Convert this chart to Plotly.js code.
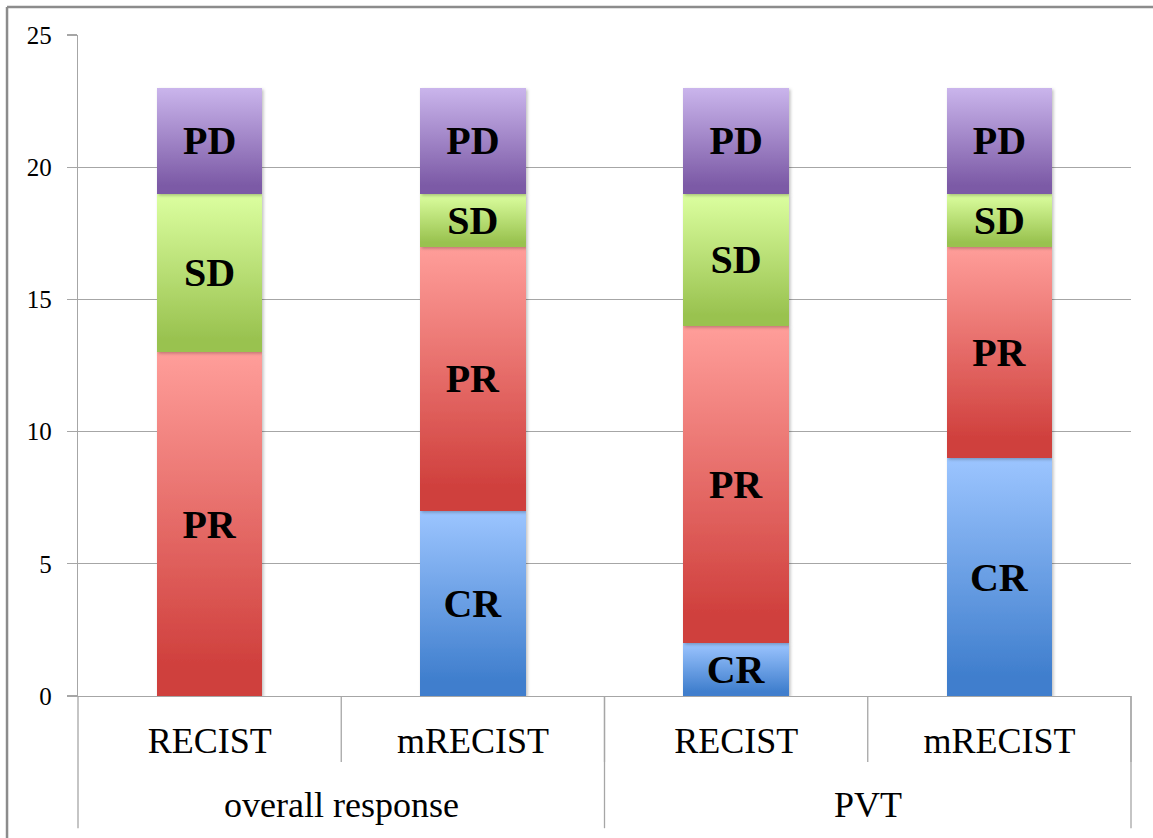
<!DOCTYPE html>
<html>
<head>
<meta charset="utf-8">
<script src="https://cdn.plot.ly/plotly-3.0.1.min.js"></script>
<style>
  html, body { margin: 0; padding: 0; background: #ffffff; overflow: hidden; }
  #chart { width: 1153px; height: 838px; }
</style>
</head>
<body>
<div id="chart"></div>
<script>
// Evaluation method for each bar, and the setting it belongs to
const groups = ['overall response', 'overall response', 'PVT', 'PVT'];
const methods = ['RECIST', 'mRECIST', 'RECIST', 'mRECIST'];

// Number of patients in each response class (stacked bottom to top)
const seriesNames = ['CR', 'PR', 'SD', 'PD'];
const crValues = [0, 7, 2, 9];
const prValues = [13, 10, 12, 8];
const sdValues = [6, 2, 5, 2];
const pdValues = [4, 4, 4, 4];

const yTicks = [0, 5, 10, 15, 20, 25];

// Vertical gradient stops (top colour, bottom colour) for each response class
const gradientStops = {
  CR: ['#9cc5ff', '#3f7ecd'],
  PR: ['#ff9e9a', '#cf3f3c'],
  SD: ['#dcffa0', '#99c24f'],
  PD: ['#cab5ec', '#7c5aa6']
};
const baseColors = { CR: '#6fa1e6', PR: '#e6706c', SD: '#bde178', PD: '#a388cb' };

const valuesBySeries = [crValues, prValues, sdValues, pdValues];

// Unique key per bar so the repeated method names stay separate categories
const barKeys = groups.map((g, i) => g + ' / ' + methods[i]);

const serif = 'Liberation Serif, Times New Roman, serif';

const traces = seriesNames.map((name, i) => ({
  type: 'bar',
  name: name,
  x: barKeys,
  y: valuesBySeries[i],
  text: valuesBySeries[i].map(v => (v > 0 ? name : '')),
  texttemplate: '%{text}',
  textposition: 'inside',
  insidetextanchor: 'middle',
  textangle: 0,
  constraintext: 'none',
  insidetextfont: { family: serif, size: 40, color: '#000000', weight: 'bold' },
  marker: { color: baseColors[name], line: { width: 0 } },
  width: 0.4,
  hoverinfo: 'skip'
}));

// Group captions centred under each pair of bars
const groupNames = [...new Set(groups)];
const groupAnnotations = groupNames.map(g => {
  const idx = groups.map((v, i) => (v === g ? i : -1)).filter(i => i >= 0);
  const centre = (idx[0] + idx[idx.length - 1]) / 2;
  return {
    text: g, xref: 'x', yref: 'paper', x: centre, y: -0.165,
    xanchor: 'center', yanchor: 'middle', showarrow: false,
    font: { family: serif, size: 36, color: '#000000' }
  };
});

const gray = '#a6a6a6';
const frame = '#8c8c8c';
const layout = {
  width: 1153,
  height: 838,
  margin: { l: 78, r: 22, t: 35, b: 142 },
  paper_bgcolor: '#ffffff',
  plot_bgcolor: '#ffffff',
  barmode: 'stack',
  showlegend: false,
  xaxis: {
    type: 'category',
    tickvals: barKeys,
    ticktext: methods,
    showgrid: false,
    showline: true,
    linecolor: gray,
    linewidth: 1.3,
    ticks: '',
    tickfont: { family: serif, size: 36, color: '#000000' },
    ticklabelstandoff: 12,
    zeroline: false
  },
  yaxis: {
    range: [0, 25],
    tickvals: yTicks,
    ticktext: yTicks.map(String),
    showgrid: true,
    gridcolor: gray,
    gridwidth: 1.3,
    showline: true,
    linecolor: gray,
    linewidth: 1.3,
    zeroline: false,
    ticks: 'outside',
    ticklen: 10,
    tickcolor: gray,
    tickwidth: 1.3,
    ticklabelstandoff: 10,
    tickfont: { family: serif, size: 25, color: '#000000' }
  },
  annotations: groupAnnotations,
  shapes: [
    // chart frame (left and top edges)
    { type: 'line', xref: 'paper', yref: 'paper', x0: -0.0674, x1: -0.0674, y0: -0.3, y1: 1.0424,
      line: { color: frame, width: 2.5 }, layer: 'below' },
    { type: 'line', xref: 'paper', yref: 'paper', x0: -0.0674, x1: 1.1, y0: 1.0424, y1: 1.0424,
      line: { color: frame, width: 2.5 }, layer: 'below' },
    // dividers between methods
    ...[0.25, 0.5, 0.75, 1].map(x => ({ type: 'line', xref: 'paper', yref: 'paper', x0: x, x1: x, y0: 0, y1: -0.0998,
      line: { color: gray, width: 1.3 } })),
    // dividers between groups
    ...[0, 0.5, 1].map(x => ({ type: 'line', xref: 'paper', yref: 'paper', x0: x, x1: x, y0: 0, y1: -0.2,
      line: { color: gray, width: 1.3 } }))
  ]
};

Plotly.newPlot('chart', traces, layout, { staticPlot: true }).then(gd => {
  const svg = gd.querySelector('svg.main-svg');
  const ns = 'http://www.w3.org/2000/svg';
  let defs = svg.querySelector('defs');
  if (!defs) { defs = document.createElementNS(ns, 'defs'); svg.insertBefore(defs, svg.firstChild); }

  // soft shadow beneath each bar segment
  const filter = document.createElementNS(ns, 'filter');
  filter.setAttribute('id', 'barShadow');
  filter.setAttribute('x', '-20%'); filter.setAttribute('y', '-20%');
  filter.setAttribute('width', '140%'); filter.setAttribute('height', '140%');
  const drop = document.createElementNS(ns, 'feDropShadow');
  drop.setAttribute('dx', '1.5'); drop.setAttribute('dy', '1.5');
  drop.setAttribute('stdDeviation', '1.5');
  drop.setAttribute('flood-color', '#000'); drop.setAttribute('flood-opacity', '0.25');
  filter.appendChild(drop);
  defs.appendChild(filter);

  seriesNames.forEach(name => {
    const grad = document.createElementNS(ns, 'linearGradient');
    grad.setAttribute('id', 'grad-' + name);
    grad.setAttribute('x1', '0'); grad.setAttribute('y1', '0');
    grad.setAttribute('x2', '0'); grad.setAttribute('y2', '1');
    const [top, bottom] = gradientStops[name];
    [[0, top], [0.92, bottom], [1, bottom]].forEach(([off, col]) => {
      const stop = document.createElementNS(ns, 'stop');
      stop.setAttribute('offset', off);
      stop.setAttribute('stop-color', col);
      grad.appendChild(stop);
    });
    defs.appendChild(grad);
  });

  const traceGroups = gd.querySelectorAll('.barlayer .trace');
  traceGroups.forEach((g, i) => {
    const name = seriesNames[i];
    g.querySelectorAll('.point path').forEach(p => {
      p.style.fill = 'url(#grad-' + name + ')';
      p.setAttribute('filter', 'url(#barShadow)');
    });
  });
});
</script>
</body>
</html>
